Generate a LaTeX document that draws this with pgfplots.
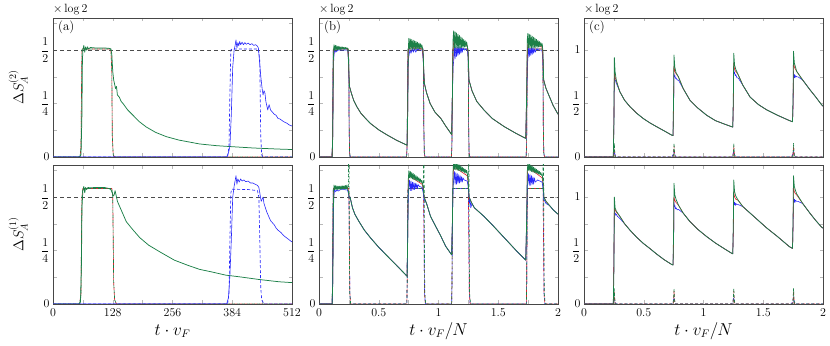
\documentclass[border=0pt]{standalone}
\usepackage{amsmath}
\usepackage{pgfplots}
\pgfplotsset{compat=1.18}
\definecolor{cblue}{RGB}{40,40,250}
\definecolor{cred}{RGB}{228,30,45}
\definecolor{cgreen}{RGB}{28,128,72}
\definecolor{frame}{RGB}{70,70,70}

\pgfplotsset{
  panel/.style={scale only axis, width=239bp, height=139bp, anchor=south west,
    axis line style={frame, line width=0.7pt},
    tick style={gray!55, line width=0.5pt},
    major tick length=3.5bp, minor tick length=3.5bp,
    tick label style={font=\fontsize{11.5}{13}\selectfont},
    xticklabel style={yshift=-1bp},
    xlabel style={at={(axis description cs:0.5,0)}, anchor=base, yshift=-31bp, font=\fontsize{16}{18}\selectfont},
    ylabel style={at={(axis description cs:-0.146,0.5)}, anchor=center, font=\fontsize{14}{16}\selectfont}},
  ab/.style={ymin=0, ymax=0.65, ytick={0,0.25,0.5}, yticklabels={$0$,$\dfrac14$,$\dfrac12$}, minor ytick={0.125,0.375,0.625}},
  cc/.style={ymin=0, ymax=1.3, ytick={0,0.5,1}, yticklabels={$0$,$\dfrac12$,$1$}, minor ytick={0.25,0.75,1.25}},
  xa/.style={xmin=0, xmax=512, xtick={0,128,256,384,512}, minor xtick={64,192,320,448}},
  xb/.style={xmin=0, xmax=2, xtick={0,0.5,1,1.5,2}, minor xtick={0.25,0.75,1.25,1.75}},
  toprow/.style={xticklabel=\empty},
  sol/.style={line width=0.6pt, line join=round, mark=none},
  solg/.style={line width=0.75pt, line join=round, mark=none, cgreen},
  das/.style={line width=0.65pt, mark=none, dash pattern=on 3bp off 2bp},
  half/.style={gray!60!black, dash pattern=on 4bp off 3bp, line width=0.7pt},
}
\newcommand{\tags}[1]{%
  \node[anchor=base west, inner sep=0pt, font=\fontsize{12}{14}\selectfont] at (0,1) [yshift=5bp] {$\times\log 2$};
  \node[anchor=base west, inner sep=0pt, font=\fontsize{13}{15}\selectfont] at (0,1) [xshift=5bp, yshift=-13bp] {#1};}

\begin{document}
\begin{tikzpicture}
\path[use as bounding box] (0,0) rectangle (830bp,346bp);

% ---------- (a) top
\begin{axis}[panel, ab, xa, toprow, at={(53bp,189bp)}, ylabel={$\Delta S_A^{(2)}$},
  extra description/.code={\tags{(a)}}]
\addplot[half] coordinates {(0,0.5) (512,0.5)};
\addplot[das, cred] coordinates {(0,0)(58,0)(60,0.05)(61,0.3)(62,0.5)(63,0.505)(124,0.505)(126,0.4)(127,0.1)(129,0.01)(132,0)(512,0)};
\addplot[das, cgreen, dash phase=2.5bp] coordinates {(0,0)(58,0)(60,0.05)(61,0.3)(62,0.5)(63,0.505)(124,0.505)(126,0.4)(127,0.1)(129,0.01)(132,0)(512,0)};
\addplot[das, cblue] coordinates {(0,0)(374,0)(377,0.05)(379,0.3)(381,0.5)(383,0.505)(440,0.505)(443,0.45)(445,0.1)(447,0.01)(450,0)(512,0)};
\addplot[solg] coordinates {(0,0)(56,0)(60,0.01)(62,0.2)(63,0.45)(64,0.5)(66,0.522)(68,0.49)(70,0.515)(72,0.5)(74,0.515)(76,0.505)(80,0.512)(90,0.51)(100,0.51)(110,0.51)(120,0.508)(124,0.505)(126,0.48)(128,0.4)(130,0.36)(132,0.34)(134,0.32)(136,0.33)(138,0.29)(142,0.28)(146,0.26)(150,0.25)(160,0.22)(171,0.196)(185,0.165)(200,0.14)(220,0.115)(243,0.095)(270,0.079)(314,0.061)(350,0.053)(385,0.048)(430,0.042)(484,0.037)(512,0.035)};
\addplot[sol, cblue] coordinates {(0,0)(372,0)(376,0.02)(379,0.05)(382,0.2)(385,0.42)(388,0.5)(390,0.52)(392,0.547)(394,0.51)(396,0.535)(398,0.52)(400,0.54)(402,0.525)(405,0.537)(408,0.525)(411,0.535)(414,0.527)(418,0.533)(422,0.525)(426,0.53)(430,0.522)(434,0.525)(438,0.518)(440,0.51)(442,0.46)(445,0.38)(448,0.32)(450,0.29)(452,0.31)(454,0.3)(456,0.26)(458,0.24)(460,0.22)(463,0.245)(466,0.22)(470,0.21)(474,0.2)(478,0.195)(482,0.18)(486,0.178)(491,0.17)(496,0.163)(501,0.158)(506,0.15)(512,0.145)};
\end{axis}

% ---------- (a) bottom
\begin{axis}[panel, ab, xa, at={(53bp,42bp)}, ylabel={$\Delta S_A^{(1)}$}, xlabel={$t\cdot v_F$}]
\addplot[half] coordinates {(0,0.5) (512,0.5)};
\addplot[das, cred] coordinates {(0,0)(57,0)(60,0.05)(61,0.3)(62,0.5)(64,0.54)(126,0.54)(128,0.5)(129,0.3)(130,0.1)(132,0.02)(136,0)(512,0)};
\addplot[das, cgreen, dash phase=2.5bp] coordinates {(0,0)(57,0)(60,0.05)(61,0.3)(62,0.5)(64,0.54)(126,0.54)(128,0.5)(129,0.3)(130,0.1)(132,0.02)(136,0)(512,0)};
\addplot[das, cblue] coordinates {(0,0)(374,0)(377,0.05)(379,0.3)(381,0.52)(383,0.537)(420,0.535)(438,0.53)(441,0.5)(443,0.3)(445,0.08)(447,0.02)(452,0)(512,0)};
\addplot[solg] coordinates {(0,0)(56,0)(59,0.01)(61,0.2)(62,0.45)(64,0.53)(66,0.55)(68,0.52)(70,0.545)(72,0.535)(75,0.545)(80,0.543)(90,0.545)(100,0.545)(110,0.545)(120,0.54)(124,0.535)(127,0.52)(129,0.505)(131,0.51)(133,0.53)(135,0.51)(138,0.48)(143,0.455)(150,0.42)(157,0.385)(170,0.35)(186,0.31)(205,0.275)(228,0.245)(260,0.205)(290,0.18)(314,0.162)(340,0.15)(370,0.135)(400,0.127)(440,0.115)(484,0.104)(512,0.1)};
\addplot[sol, cblue] coordinates {(0,0)(372,0)(376,0.03)(379,0.135)(382,0.3)(385,0.5)(388,0.55)(390,0.575)(392,0.6)(394,0.56)(396,0.585)(399,0.57)(402,0.585)(405,0.575)(409,0.58)(413,0.572)(418,0.575)(423,0.566)(428,0.566)(433,0.56)(438,0.555)(441,0.545)(443,0.52)(446,0.48)(448,0.49)(450,0.5)(452,0.47)(455,0.45)(458,0.43)(462,0.41)(466,0.39)(470,0.38)(474,0.37)(478,0.355)(482,0.345)(488,0.335)(494,0.32)(500,0.31)(506,0.3)(512,0.29)};
\end{axis}

% ---------- (b) top
\begin{axis}[panel, ab, xb, toprow, at={(319bp,189bp)}, extra description/.code={\tags{(b)}}]
\addplot[half] coordinates {(0,0.5) (2,0.5)};
\addplot[das, cblue, dash phase=3.4bp] coordinates {(0,0)(0.108,0)(0.112,0.05)(0.116,0.3)(0.119,0.5)(0.122,0.505)(0.245,0.505)(0.249,0.45)(0.252,0.15)(0.256,0.02)(0.262,0)(0.733,0)(0.737,0.05)(0.741,0.3)(0.744,0.5)(0.747,0.505)(0.87,0.505)(0.874,0.45)(0.877,0.15)(0.881,0.02)(0.887,0)(1.108,0)(1.112,0.05)(1.116,0.3)(1.119,0.5)(1.122,0.505)(1.245,0.505)(1.249,0.45)(1.252,0.15)(1.256,0.02)(1.262,0)(1.733,0)(1.737,0.05)(1.741,0.3)(1.744,0.5)(1.747,0.505)(1.87,0.505)(1.874,0.45)(1.877,0.15)(1.881,0.02)(1.887,0)(2,0)};
\addplot[das, cred, dash phase=1.7bp] coordinates {(0,0)(0.108,0)(0.112,0.05)(0.116,0.3)(0.119,0.5)(0.122,0.505)(0.245,0.505)(0.249,0.45)(0.252,0.15)(0.256,0.02)(0.262,0)(0.733,0)(0.737,0.05)(0.741,0.3)(0.744,0.5)(0.747,0.505)(0.87,0.505)(0.874,0.45)(0.877,0.15)(0.881,0.02)(0.887,0)(1.108,0)(1.112,0.05)(1.116,0.3)(1.119,0.5)(1.122,0.505)(1.245,0.505)(1.249,0.45)(1.252,0.15)(1.256,0.02)(1.262,0)(1.733,0)(1.737,0.05)(1.741,0.3)(1.744,0.5)(1.747,0.505)(1.87,0.505)(1.874,0.45)(1.877,0.15)(1.881,0.02)(1.887,0)(2,0)};
\addplot[das, cgreen] coordinates {(0,0)(0.108,0)(0.112,0.05)(0.116,0.3)(0.119,0.5)(0.122,0.505)(0.245,0.505)(0.249,0.45)(0.252,0.15)(0.256,0.02)(0.262,0)(0.733,0)(0.737,0.05)(0.741,0.3)(0.744,0.5)(0.747,0.505)(0.87,0.505)(0.874,0.45)(0.877,0.15)(0.881,0.02)(0.887,0)(1.108,0)(1.112,0.05)(1.116,0.3)(1.119,0.5)(1.122,0.505)(1.245,0.505)(1.249,0.45)(1.252,0.15)(1.256,0.02)(1.262,0)(1.733,0)(1.737,0.05)(1.741,0.3)(1.744,0.5)(1.747,0.505)(1.87,0.505)(1.874,0.45)(1.877,0.15)(1.881,0.02)(1.887,0)(2,0)};
\addplot[sol, cblue] coordinates {(0,0)(0.11,0)(0.115,0.1)(0.12,0.42)(0.125,0.47)(0.13,0.5)(0.14,0.49)(0.16,0.5)(0.2,0.5)(0.24,0.5)(0.245,0.46)(0.25,0.38)(0.255,0.33)
 (0.27,0.3)(0.29,0.265)(0.317,0.235)(0.35,0.205)(0.39,0.18)(0.43,0.157)(0.5,0.127)(0.57,0.103)(0.65,0.078)(0.737,0.055)
 (0.742,0.2)(0.747,0.45)(0.752,0.47)(0.76,0.5)(0.77,0.485)(0.78,0.505)(0.79,0.49)(0.8,0.505)(0.81,0.49)(0.82,0.505)(0.84,0.5)(0.863,0.5)(0.87,0.47)(0.877,0.4)(0.882,0.344)
 (0.9,0.3)(0.93,0.25)(0.97,0.21)(1.02,0.18)(1.06,0.145)(1.11,0.105)
 (1.117,0.3)(1.122,0.42)(1.127,0.45)(1.133,0.51)(1.139,0.46)(1.145,0.515)(1.151,0.47)(1.157,0.515)(1.163,0.475)(1.169,0.515)(1.175,0.48)(1.181,0.515)(1.187,0.485)(1.193,0.51)(1.199,0.49)(1.205,0.51)(1.215,0.5)(1.24,0.505)(1.248,0.47)(1.255,0.36)
 (1.28,0.31)(1.32,0.26)(1.38,0.22)(1.45,0.18)(1.55,0.142)(1.65,0.11)(1.73,0.087)
 (1.738,0.3)(1.743,0.42)(1.748,0.46)(1.754,0.51)(1.76,0.47)(1.766,0.51)(1.772,0.475)(1.778,0.51)(1.784,0.48)(1.79,0.51)(1.796,0.485)(1.802,0.505)(1.81,0.49)(1.82,0.505)(1.84,0.5)(1.865,0.5)(1.872,0.47)(1.88,0.36)
 (1.9,0.32)(1.93,0.28)(1.96,0.24)(2,0.2)};
\addplot[sol, cred] coordinates {(0,0)(0.11,0)(0.115,0.1)(0.12,0.44)(0.125,0.5)(0.13,0.51)(0.16,0.51)(0.2,0.51)(0.24,0.505)(0.245,0.47)(0.25,0.39)(0.255,0.33)
 (0.27,0.3)(0.29,0.265)(0.317,0.235)(0.35,0.205)(0.39,0.18)(0.43,0.157)(0.5,0.127)(0.57,0.103)(0.65,0.078)(0.737,0.055)
 (0.742,0.2)(0.747,0.49)(0.752,0.515)(0.77,0.515)(0.8,0.51)(0.83,0.51)(0.863,0.505)(0.87,0.48)(0.877,0.4)(0.882,0.344)
 (0.9,0.3)(0.93,0.25)(0.97,0.21)(1.02,0.18)(1.06,0.145)(1.11,0.105)
 (1.117,0.3)(1.122,0.5)(1.127,0.54)(1.15,0.54)(1.18,0.535)(1.21,0.53)(1.24,0.52)(1.248,0.49)(1.255,0.36)
 (1.28,0.31)(1.32,0.26)(1.38,0.22)(1.45,0.18)(1.55,0.142)(1.65,0.11)(1.73,0.087)
 (1.738,0.3)(1.743,0.5)(1.748,0.53)(1.8,0.525)(1.84,0.52)(1.865,0.515)(1.872,0.49)(1.88,0.36)
 (1.9,0.32)(1.93,0.28)(1.96,0.24)(2,0.2)};
\addplot[solg] coordinates {(0,0)(0.11,0)(0.115,0.1)(0.12,0.45)
 (0.125,0.525)(0.131,0.5)(0.137,0.522)(0.143,0.5)(0.149,0.52)(0.155,0.502)(0.161,0.518)(0.167,0.502)(0.173,0.516)(0.179,0.503)(0.185,0.515)(0.191,0.504)(0.197,0.514)(0.203,0.505)(0.209,0.513)(0.215,0.505)(0.221,0.512)(0.227,0.506)(0.233,0.511)(0.239,0.507)(0.245,0.48)(0.25,0.40)(0.255,0.33)
 (0.27,0.3)(0.29,0.265)(0.317,0.235)(0.35,0.205)(0.39,0.18)(0.43,0.157)(0.5,0.127)(0.57,0.103)(0.65,0.078)(0.737,0.055)(0.742,0.2)(0.747,0.5)
 (0.752,0.555)(0.758,0.505)(0.764,0.552)(0.770,0.505)(0.776,0.549)(0.782,0.505)(0.788,0.546)(0.794,0.505)(0.800,0.543)(0.806,0.505)(0.812,0.540)(0.818,0.506)(0.824,0.537)(0.830,0.506)(0.836,0.533)(0.842,0.507)(0.848,0.530)(0.854,0.508)(0.860,0.525)(0.866,0.51)(0.872,0.48)(0.877,0.4)(0.882,0.344)
 (0.9,0.3)(0.93,0.25)(0.97,0.21)(1.02,0.18)(1.06,0.145)(1.11,0.105)(1.117,0.3)(1.122,0.55)
 (1.127,0.59)(1.133,0.51)(1.139,0.585)(1.145,0.51)(1.151,0.58)(1.157,0.51)(1.163,0.574)(1.169,0.51)(1.175,0.568)(1.181,0.51)(1.187,0.562)(1.193,0.512)(1.199,0.556)(1.205,0.512)(1.211,0.55)(1.217,0.514)(1.223,0.544)(1.229,0.515)(1.235,0.538)(1.241,0.52)(1.248,0.49)(1.255,0.36)
 (1.28,0.31)(1.32,0.26)(1.38,0.22)(1.45,0.18)(1.55,0.142)(1.65,0.11)(1.73,0.087)(1.738,0.3)(1.743,0.55)
 (1.748,0.578)(1.754,0.51)(1.760,0.574)(1.766,0.51)(1.772,0.57)(1.778,0.51)(1.784,0.565)(1.790,0.51)(1.796,0.56)(1.802,0.512)(1.808,0.555)(1.814,0.512)(1.820,0.55)(1.826,0.513)(1.832,0.545)(1.838,0.514)(1.844,0.54)(1.850,0.515)(1.856,0.535)(1.862,0.518)(1.868,0.53)(1.874,0.49)(1.88,0.36)
 (1.9,0.32)(1.93,0.28)(1.96,0.24)(2,0.2)};
\end{axis}

% ---------- (b) bottom
\begin{axis}[panel, ab, xb, at={(319bp,42bp)}, xlabel={$t\cdot v_F/N$}]
\addplot[half] coordinates {(0,0.5) (2,0.5)};
\addplot[das, cblue, dash phase=3.4bp] coordinates {(0,0)(0.11,0)(0.113,0.1)(0.117,0.45)(0.12,0.54)(0.25,0.54)(0.254,0.3)(0.258,0.05)(0.265,0)(0.735,0)(0.738,0.1)(0.742,0.45)(0.745,0.54)(0.875,0.54)(0.879,0.3)(0.883,0.05)(0.89,0)(1.11,0)(1.113,0.1)(1.117,0.45)(1.12,0.54)(1.25,0.54)(1.254,0.3)(1.258,0.05)(1.265,0)(1.735,0)(1.738,0.1)(1.742,0.45)(1.745,0.54)(1.875,0.54)(1.879,0.3)(1.883,0.05)(1.89,0)(2,0)};
\addplot[das, cred, dash phase=1.7bp] coordinates {(0,0)(0.11,0)(0.113,0.1)(0.117,0.45)(0.12,0.54)(0.25,0.54)(0.254,0.3)(0.258,0.05)(0.265,0)(0.735,0)(0.738,0.1)(0.742,0.45)(0.745,0.54)(0.875,0.54)(0.879,0.3)(0.883,0.05)(0.89,0)(1.11,0)(1.113,0.1)(1.117,0.45)(1.12,0.54)(1.25,0.54)(1.254,0.3)(1.258,0.05)(1.265,0)(1.735,0)(1.738,0.1)(1.742,0.45)(1.745,0.54)(1.875,0.54)(1.879,0.3)(1.883,0.05)(1.89,0)(2,0)};
\addplot[das, cgreen] coordinates {(0,0)(0.11,0)(0.113,0.1)(0.117,0.45)(0.12,0.54)(0.245,0.54)(0.248,0.7)(0.251,0.7)(0.254,0.3)(0.257,0.05)(0.265,0)(0.735,0)(0.738,0.1)(0.742,0.45)(0.745,0.54)(0.873,0.54)(0.876,0.7)(0.879,0.7)(0.882,0.3)(0.885,0.05)(0.893,0)(1.11,0)(1.113,0.1)(1.117,0.45)(1.12,0.54)(1.248,0.54)(1.251,0.7)(1.254,0.7)(1.257,0.3)(1.26,0.05)(1.268,0)(1.735,0)(1.738,0.1)(1.742,0.45)(1.745,0.54)(1.873,0.54)(1.876,0.7)(1.879,0.7)(1.882,0.3)(1.885,0.05)(1.893,0)(2,0)};
\addplot[sol, cred] coordinates {(0,0)(0.11,0)(0.115,0.1)(0.12,0.44)(0.125,0.54)(0.15,0.545)(0.2,0.545)(0.238,0.545)(0.245,0.53)(0.252,0.5)
 (0.26,0.5)(0.28,0.45)(0.3,0.42)(0.33,0.39)(0.38,0.345)(0.43,0.31)(0.5,0.265)(0.57,0.225)(0.65,0.18)(0.737,0.13)
 (0.742,0.3)(0.747,0.56)(0.752,0.6)(0.78,0.59)(0.82,0.575)(0.863,0.56)(0.872,0.54)(0.88,0.5)
 (0.9,0.47)(0.933,0.41)(0.97,0.37)(1.017,0.32)(1.06,0.27)(1.11,0.23)
 (1.117,0.4)(1.122,0.6)(1.127,0.64)(1.16,0.63)(1.2,0.615)(1.24,0.6)(1.248,0.57)(1.256,0.5)
 (1.28,0.47)(1.3,0.45)(1.38,0.41)(1.45,0.37)(1.55,0.31)(1.65,0.25)(1.73,0.205)
 (1.738,0.4)(1.743,0.6)(1.748,0.635)(1.78,0.625)(1.82,0.61)(1.867,0.59)(1.875,0.56)(1.882,0.5)
 (1.9,0.48)(1.93,0.46)(1.96,0.44)(2,0.42)};
\addplot[sol, cblue] coordinates {(0,0)(0.11,0)(0.115,0.1)(0.12,0.42)(0.125,0.51)(0.13,0.535)(0.14,0.525)(0.15,0.535)(0.16,0.528)(0.18,0.535)(0.21,0.535)(0.238,0.533)(0.245,0.52)(0.252,0.5)
 (0.26,0.5)(0.28,0.45)(0.3,0.42)(0.33,0.39)(0.38,0.345)(0.43,0.31)(0.5,0.265)(0.57,0.225)(0.65,0.18)(0.737,0.13)
 (0.742,0.3)(0.747,0.5)(0.752,0.55)(0.758,0.58)(0.764,0.53)(0.770,0.575)(0.776,0.53)(0.782,0.57)(0.788,0.535)(0.794,0.568)(0.8,0.535)(0.806,0.565)(0.812,0.54)(0.818,0.562)(0.824,0.54)(0.83,0.558)(0.84,0.55)(0.863,0.545)(0.872,0.52)(0.88,0.49)
 (0.9,0.47)(0.933,0.41)(0.97,0.37)(1.017,0.32)(1.06,0.27)(1.11,0.23)
 (1.117,0.4)(1.122,0.55)(1.127,0.58)(1.133,0.62)(1.139,0.56)(1.145,0.615)(1.151,0.56)(1.157,0.61)(1.163,0.565)(1.169,0.605)(1.175,0.565)(1.181,0.6)(1.187,0.57)(1.193,0.595)(1.199,0.57)(1.205,0.59)(1.215,0.58)(1.24,0.575)(1.248,0.55)(1.256,0.5)(1.26,0.47)(1.265,0.49)(1.27,0.45)(1.28,0.47)
 (1.3,0.45)(1.38,0.41)(1.45,0.37)(1.55,0.31)(1.65,0.25)(1.73,0.205)
 (1.738,0.4)(1.743,0.55)(1.748,0.57)(1.754,0.61)(1.76,0.555)(1.766,0.605)(1.772,0.555)(1.778,0.6)(1.784,0.56)(1.79,0.595)(1.796,0.56)(1.802,0.59)(1.81,0.57)(1.83,0.58)(1.867,0.57)(1.875,0.54)(1.882,0.49)
 (1.9,0.47)(1.93,0.46)(1.96,0.44)(2,0.42)};
\addplot[solg] coordinates {(0,0)(0.11,0)(0.115,0.1)(0.12,0.45)
 (0.125,0.556)(0.131,0.535)(0.137,0.553)(0.143,0.535)(0.149,0.552)(0.155,0.536)(0.161,0.551)(0.167,0.536)(0.173,0.551)(0.179,0.537)(0.185,0.552)(0.191,0.537)(0.197,0.552)(0.203,0.538)(0.209,0.553)(0.215,0.538)(0.221,0.554)(0.227,0.539)(0.233,0.556)(0.239,0.54)(0.245,0.53)(0.252,0.5)
 (0.26,0.5)(0.28,0.45)(0.3,0.42)(0.33,0.39)(0.38,0.345)(0.43,0.31)(0.5,0.265)(0.57,0.225)(0.65,0.18)(0.737,0.13)(0.742,0.3)(0.747,0.58)
 (0.752,0.623)(0.758,0.59)(0.764,0.62)(0.770,0.588)(0.776,0.615)(0.782,0.585)(0.788,0.61)(0.794,0.582)(0.800,0.605)(0.806,0.58)(0.812,0.6)(0.818,0.577)(0.824,0.595)(0.830,0.574)(0.836,0.59)(0.842,0.572)(0.848,0.585)(0.854,0.568)(0.860,0.578)(0.866,0.565)(0.872,0.54)(0.88,0.5)
 (0.9,0.47)(0.933,0.41)(0.97,0.37)(1.017,0.32)(1.06,0.27)(1.11,0.23)(1.117,0.4)(1.122,0.62)
 (1.127,0.67)(1.133,0.63)(1.139,0.665)(1.145,0.628)(1.151,0.66)(1.157,0.626)(1.163,0.655)(1.169,0.624)(1.175,0.65)(1.181,0.622)(1.187,0.645)(1.193,0.62)(1.199,0.64)(1.205,0.617)(1.211,0.635)(1.217,0.615)(1.223,0.63)(1.229,0.612)(1.235,0.625)(1.241,0.61)(1.248,0.58)(1.256,0.5)
 (1.28,0.47)(1.3,0.45)(1.38,0.41)(1.45,0.37)(1.55,0.31)(1.65,0.25)(1.73,0.205)(1.738,0.4)(1.743,0.62)
 (1.748,0.66)(1.754,0.625)(1.76,0.655)(1.766,0.622)(1.772,0.65)(1.778,0.62)(1.784,0.645)(1.79,0.617)(1.796,0.64)(1.802,0.615)(1.808,0.635)(1.814,0.612)(1.82,0.63)(1.826,0.61)(1.832,0.625)(1.838,0.607)(1.844,0.62)(1.85,0.605)(1.856,0.615)(1.862,0.602)(1.868,0.605)(1.875,0.57)(1.882,0.5)
 (1.9,0.48)(1.93,0.46)(1.96,0.44)(2,0.42)};
\end{axis}

% ---------- (c) top
\begin{axis}[panel, cc, xb, toprow, at={(584bp,189bp)}, extra description/.code={\tags{(c)}}]
\addplot[das, cblue] coordinates {(0,0)(0.235,0)(0.245,0.02)(0.253,0.05)(0.26,0.02)(0.27,0)(0.735,0)(0.745,0.02)(0.753,0.05)(0.76,0.02)(0.77,0)(1.235,0)(1.245,0.02)(1.253,0.05)(1.26,0.02)(1.27,0)(1.735,0)(1.745,0.02)(1.753,0.05)(1.76,0.02)(1.77,0)(2,0)};
\addplot[das, cred, dash phase=1.7bp] coordinates {(0,0)(0.245,0)(0.25,0.04)(0.2535,0.1)(0.257,0.04)(0.262,0)(0.745,0)(0.75,0.04)(0.7535,0.1)(0.757,0.04)(0.762,0)(1.245,0)(1.25,0.04)(1.2535,0.1)(1.257,0.04)(1.262,0)(1.745,0)(1.75,0.04)(1.7535,0.1)(1.757,0.04)(1.762,0)(2,0)};
\addplot[das, cgreen] coordinates {(0,0)(0.245,0)(0.25,0.05)(0.2535,0.13)(0.257,0.05)(0.262,0)(0.745,0)(0.75,0.05)(0.7535,0.13)(0.757,0.05)(0.762,0)(1.245,0)(1.25,0.05)(1.2535,0.13)(1.257,0.05)(1.262,0)(1.745,0)(1.75,0.05)(1.7535,0.13)(1.757,0.05)(1.762,0)(2,0)};
\addplot[sol, cblue] coordinates {(0,0)(0.245,0)(0.25,0.3)(0.254,0.76)(0.258,0.72)(0.262,0.72)(0.27,0.69)(0.28,0.665)
 (0.3,0.61)(0.34,0.53)(0.385,0.47)(0.44,0.41)(0.496,0.36)(0.55,0.32)(0.608,0.283)(0.67,0.245)(0.733,0.205)(0.745,0.2)
 (0.75,0.5)(0.753,0.78)(0.757,0.75)(0.761,0.76)(0.765,0.735)(0.77,0.74)(0.78,0.72)(0.79,0.72)
 (0.83,0.64)(0.887,0.53)(0.95,0.46)(1.027,0.39)(1.1,0.34)(1.17,0.31)(1.236,0.283)(1.245,0.28)
 (1.25,0.5)(1.253,0.84)(1.257,0.78)(1.261,0.79)(1.265,0.76)(1.27,0.77)(1.28,0.74)(1.29,0.74)
 (1.33,0.67)(1.39,0.56)(1.46,0.49)(1.53,0.44)(1.62,0.39)(1.72,0.34)(1.745,0.33)
 (1.75,0.5)(1.753,0.8)(1.757,0.74)(1.761,0.77)(1.765,0.74)(1.77,0.76)(1.78,0.75)(1.79,0.75)
 (1.83,0.72)(1.89,0.63)(1.94,0.56)(1.987,0.49)(2,0.475)};
\addplot[sol, cred] coordinates {(0,0)(0.245,0)(0.25,0.3)(0.254,0.8)(0.26,0.75)(0.27,0.71)(0.28,0.68)
 (0.3,0.61)(0.34,0.53)(0.385,0.47)(0.44,0.41)(0.496,0.36)(0.55,0.32)(0.608,0.283)(0.67,0.245)(0.733,0.205)(0.745,0.2)
 (0.75,0.5)(0.753,0.85)(0.76,0.8)(0.77,0.78)(0.79,0.75)
 (0.83,0.64)(0.887,0.53)(0.95,0.46)(1.027,0.39)(1.1,0.34)(1.17,0.31)(1.236,0.283)(1.245,0.28)
 (1.25,0.5)(1.253,0.88)(1.26,0.82)(1.27,0.8)(1.29,0.77)
 (1.33,0.67)(1.39,0.56)(1.46,0.49)(1.53,0.44)(1.62,0.39)(1.72,0.34)(1.745,0.33)
 (1.75,0.5)(1.753,0.92)(1.76,0.84)(1.77,0.82)(1.78,0.8)
 (1.83,0.72)(1.89,0.63)(1.94,0.56)(1.987,0.49)(2,0.475)};
\addplot[solg] coordinates {(0,0)(0.245,0)(0.25,0.3)(0.254,0.93)(0.26,0.8)(0.27,0.72)(0.28,0.68)(0.3,0.61)(0.34,0.53)(0.385,0.47)(0.44,0.41)(0.496,0.36)(0.55,0.32)(0.608,0.283)(0.67,0.245)(0.733,0.205)(0.745,0.2)
 (0.75,0.6)(0.753,0.953)(0.76,0.84)(0.77,0.79)(0.79,0.75)(0.83,0.64)(0.887,0.53)(0.95,0.46)(1.027,0.39)(1.1,0.34)(1.17,0.31)(1.236,0.283)(1.245,0.28)
 (1.25,0.6)(1.253,0.97)(1.26,0.86)(1.27,0.82)(1.29,0.77)(1.33,0.67)(1.39,0.56)(1.46,0.49)(1.53,0.44)(1.62,0.39)(1.72,0.34)(1.745,0.33)
 (1.75,0.6)(1.753,0.99)(1.76,0.88)(1.77,0.84)(1.78,0.8)(1.83,0.72)(1.89,0.63)(1.94,0.56)(1.987,0.49)(2,0.475)};
\end{axis}

% ---------- (c) bottom
\begin{axis}[panel, cc, xb, at={(584bp,42bp)}, xlabel={$t\cdot v_F/N$}]
\addplot[das, cblue] coordinates {(0,0)(0.235,0)(0.245,0.02)(0.253,0.06)(0.26,0.02)(0.27,0)(0.735,0)(0.745,0.02)(0.753,0.06)(0.76,0.02)(0.77,0)(1.235,0)(1.245,0.02)(1.253,0.06)(1.26,0.02)(1.27,0)(1.735,0)(1.745,0.02)(1.753,0.06)(1.76,0.02)(1.77,0)(2,0)};
\addplot[das, cred, dash phase=1.7bp] coordinates {(0,0)(0.245,0)(0.25,0.04)(0.2535,0.12)(0.257,0.04)(0.262,0)(0.745,0)(0.75,0.04)(0.7535,0.12)(0.757,0.04)(0.762,0)(1.245,0)(1.25,0.04)(1.2535,0.12)(1.257,0.04)(1.262,0)(1.745,0)(1.75,0.04)(1.7535,0.12)(1.757,0.04)(1.762,0)(2,0)};
\addplot[das, cgreen] coordinates {(0,0)(0.245,0)(0.25,0.05)(0.2535,0.147)(0.257,0.05)(0.262,0)(0.745,0)(0.75,0.05)(0.7535,0.147)(0.757,0.05)(0.762,0)(1.245,0)(1.25,0.05)(1.2535,0.147)(1.257,0.05)(1.262,0)(1.745,0)(1.75,0.05)(1.7535,0.147)(1.757,0.05)(1.762,0)(2,0)};
\addplot[sol, cblue] coordinates {(0,0)(0.245,0)(0.25,0.4)(0.254,0.88)(0.258,0.84)(0.262,0.85)(0.266,0.83)(0.27,0.84)(0.28,0.82)
 (0.3,0.8)(0.34,0.75)(0.385,0.69)(0.44,0.625)(0.496,0.567)(0.55,0.52)(0.608,0.467)(0.67,0.415)(0.733,0.37)(0.745,0.365)
 (0.75,0.6)(0.753,0.95)(0.757,0.91)(0.761,0.92)(0.765,0.89)(0.77,0.9)(0.78,0.88)(0.79,0.885)
 (0.83,0.85)(0.887,0.77)(0.95,0.7)(1.027,0.63)(1.1,0.57)(1.17,0.52)(1.236,0.474)(1.245,0.47)
 (1.25,0.7)(1.253,0.97)(1.257,0.93)(1.261,0.95)(1.265,0.92)(1.27,0.94)(1.28,0.93)(1.29,0.93)
 (1.33,0.91)(1.39,0.85)(1.46,0.78)(1.53,0.71)(1.62,0.63)(1.72,0.535)(1.745,0.52)
 (1.75,0.75)(1.753,1.0)(1.757,0.95)(1.761,0.98)(1.765,0.95)(1.77,0.97)(1.78,0.96)(1.79,0.96)
 (1.83,0.94)(1.89,0.85)(1.94,0.78)(1.987,0.72)(2,0.71)};
\addplot[sol, cred] coordinates {(0,0)(0.245,0)(0.25,0.4)(0.254,0.92)(0.26,0.88)(0.27,0.86)
 (0.3,0.82)(0.34,0.75)(0.385,0.69)(0.44,0.625)(0.496,0.567)(0.55,0.52)(0.608,0.467)(0.67,0.415)(0.733,0.37)(0.745,0.365)
 (0.75,0.6)(0.753,1.0)(0.76,0.97)(0.77,0.95)(0.79,0.925)
 (0.83,0.85)(0.887,0.77)(0.95,0.7)(1.027,0.63)(1.1,0.57)(1.17,0.52)(1.236,0.474)(1.245,0.47)
 (1.25,0.7)(1.253,1.05)(1.26,1.0)(1.27,0.98)(1.29,0.97)
 (1.33,0.91)(1.39,0.85)(1.46,0.78)(1.53,0.71)(1.62,0.63)(1.72,0.535)(1.745,0.52)
 (1.75,0.75)(1.753,1.1)(1.76,1.05)(1.77,1.03)(1.78,1.02)
 (1.83,0.94)(1.89,0.85)(1.94,0.78)(1.987,0.72)(2,0.71)};
\addplot[solg] coordinates {(0,0)(0.245,0)(0.25,0.3)(0.254,1.0)(0.26,0.9)(0.27,0.87)(0.3,0.82)(0.34,0.75)(0.385,0.69)(0.44,0.625)(0.496,0.567)(0.55,0.52)(0.608,0.467)(0.67,0.415)(0.733,0.37)(0.745,0.365)
 (0.75,0.7)(0.753,1.13)(0.76,1.02)(0.77,0.98)(0.79,0.925)(0.83,0.85)(0.887,0.77)(0.95,0.7)(1.027,0.63)(1.1,0.57)(1.17,0.52)(1.236,0.474)(1.245,0.47)
 (1.25,0.8)(1.253,1.16)(1.26,1.05)(1.27,1.01)(1.29,0.97)(1.33,0.91)(1.39,0.85)(1.46,0.78)(1.53,0.71)(1.62,0.63)(1.72,0.535)(1.745,0.52)
 (1.75,0.85)(1.753,1.2)(1.76,1.1)(1.77,1.06)(1.78,1.03)(1.83,0.94)(1.89,0.85)(1.94,0.78)(1.987,0.72)(2,0.71)};
\end{axis}
\end{tikzpicture}
\end{document}
